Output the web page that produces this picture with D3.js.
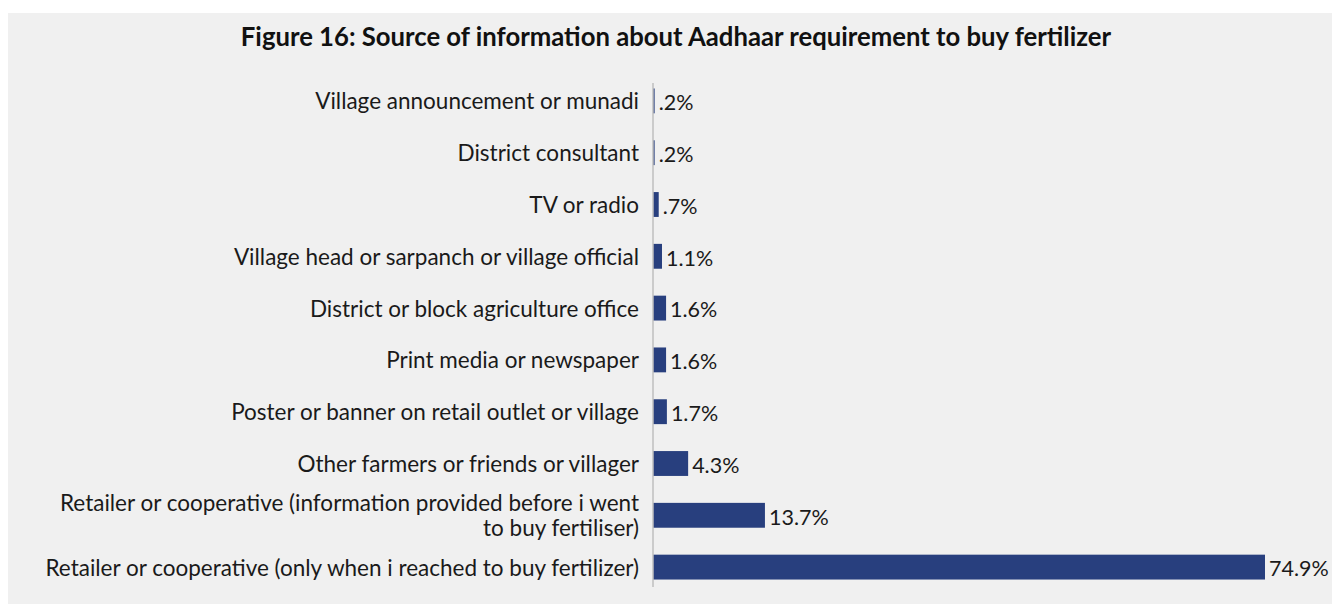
<!DOCTYPE html>
<html>
<head>
<meta charset="utf-8">
<script src="https://cdn.jsdelivr.net/npm/d3@7"></script>
<style>
  html, body { margin: 0; padding: 0; background: #fff; }
  svg { display: block; }
  .title { font-family: Lato, sans-serif; font-weight: bold; font-size: 25.7px; fill: #111; }
  .cat-label { font-family: Lato, sans-serif; font-size: 22.5px; fill: #1a1a1a; }
  .value-label { font-family: Lato, sans-serif; font-size: 21.5px; fill: #1a1a1a; }
</style>
</head>
<body>
<div id="chart"></div>
<script>
// categories (top to bottom), some split over two lines
const categories = [
  ["Village announcement or munadi"],
  ["District consultant"],
  ["TV or radio"],
  ["Village head or sarpanch or village official"],
  ["District or block agriculture office"],
  ["Print media or newspaper"],
  ["Poster or banner on retail outlet or village"],
  ["Other farmers or friends or villager"],
  ["Retailer or cooperative (information provided before i went", "to buy fertiliser)"],
  ["Retailer or cooperative (only when i reached to buy fertilizer)"]
];
const shares = [0.2, 0.2, 0.7, 1.1, 1.6, 1.6, 1.7, 4.3, 13.7, 74.9];

const W = 1332, H = 605;
const axisX = 653;

const svg = d3.select('#chart').append('svg')
  .attr('width', W)
  .attr('height', H);

// grey panel
svg.append('rect')
  .attr('x', 8).attr('y', 13)
  .attr('width', W - 8).attr('height', 591)
  .attr('fill', '#f0f0f0');

svg.append('text')
  .attr('class', 'title')
  .attr('x', 676)
  .attr('y', 46)
  .attr('text-anchor', 'middle')
  .text('Figure 16: Source of information about Aadhaar requirement to buy fertilizer');

const keys = categories.map((c, i) => i);

const x = d3.scaleLinear()
  .domain([0, 74.9])
  .range([axisX, 1265]);

const y = d3.scaleBand()
  .domain(keys)
  .range([75, 593])
  .paddingInner(0.52)
  .paddingOuter(0.26);

// bars
svg.selectAll('.bar')
  .data(shares)
  .enter().append('rect')
  .attr('class', 'bar')
  .attr('x', x(0))
  .attr('y', (d, i) => y(i))
  .attr('width', d => x(d) - x(0))
  .attr('height', y.bandwidth())
  .attr('fill', '#283f7e');

// vertical axis line
svg.append('line')
  .attr('x1', axisX).attr('x2', axisX)
  .attr('y1', 83).attr('y2', 587)
  .attr('stroke', '#bfbfbf')
  .attr('stroke-width', 1.5);

// category labels
const fmt = v => d3.format('.1f')(v).replace(/^0\./, '.') + '%';

const lbl = svg.selectAll('.cat-label')
  .data(categories)
  .enter().append('text')
  .attr('class', 'cat-label')
  .attr('text-anchor', 'end')
  .attr('transform', (d, i) => `translate(${axisX - 14},${y(i) + y.bandwidth() / 2 + 1})`);

lbl.selectAll('tspan')
  .data(d => d.map((t, j) => ({ t, j, n: d.length })))
  .enter().append('tspan')
  .attr('x', 0)
  .attr('y', d => (d.j - (d.n - 1) / 2) * 25)
  .attr('dy', '0.33em')
  .text(d => d.t);

// value labels
svg.selectAll('.value-label')
  .data(shares)
  .enter().append('text')
  .attr('class', 'value-label')
  .attr('x', d => x(d) + 4)
  .attr('y', (d, i) => y(i) + y.bandwidth() / 2)
  .attr('dy', '0.43em')
  .text(d => fmt(d));
</script>
</body>
</html>
